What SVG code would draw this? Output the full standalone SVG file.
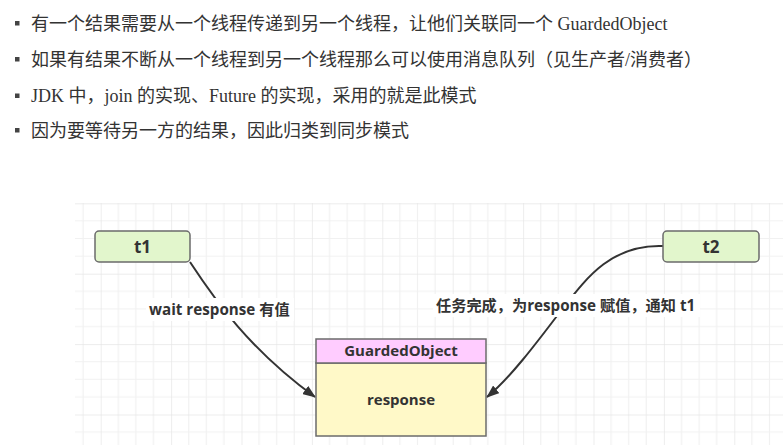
<svg xmlns="http://www.w3.org/2000/svg" width="783" height="445" viewBox="0 0 783 445">
<defs>
<style>
.bul{font-family:"Liberation Serif","Noto Sans CJK SC",serif;font-size:18px;fill:#333}
.sq{fill:#444}
.node{stroke:#6b6b6b;stroke-width:1.5}
.t{font-family:"Open Sans","Noto Sans CJK SC",sans-serif;font-weight:bold;fill:#333;text-anchor:middle}
.edge{fill:none;stroke:#333;stroke-width:2}
.lbl{font-family:"Open Sans","Noto Sans CJK SC",sans-serif;font-weight:bold;font-size:15.2px;fill:#333}
</style>
<pattern id="grid" patternUnits="userSpaceOnUse" x="100.7" y="203.3" width="70.4" height="70.4">
<path d="M17.6 0V70.4M35.2 0V70.4M52.8 0V70.4M0 17.6H70.4M0 35.2H70.4M0 52.8H70.4" stroke="#f1f1f1" stroke-width="1.2" fill="none"/>
<path d="M0 0V70.4M0 0H70.4" stroke="#e6e6e6" stroke-width="1.4" fill="none"/>
</pattern>
<marker id="arr" viewBox="0 0 13 10" refX="12" refY="5" markerWidth="13" markerHeight="10" markerUnits="userSpaceOnUse" orient="auto">
<path d="M0 0L13 5L0 10Z" fill="#333"/>
</marker>
</defs>
<rect width="783" height="445" fill="#fff"/>
<g id="bullets">
<rect class="sq" x="15" y="21" width="4.5" height="4.5"/>
<text class="bul" x="31" y="30">有一个结果需要从一个线程传递到另一个线程，让他们关联同一个 GuardedObject</text>
<rect class="sq" x="15" y="57" width="4.5" height="4.5"/>
<text class="bul" x="31" y="66">如果有结果不断从一个线程到另一个线程那么可以使用消息队列（见生产者/消费者）</text>
<rect class="sq" x="15" y="93.5" width="4.5" height="4.5"/>
<text class="bul" x="31" y="102">JDK 中，join 的实现、Future 的实现，采用的就是此模式</text>
<rect class="sq" x="15" y="128" width="4.5" height="4.5"/>
<text class="bul" x="31" y="137">因为要等待另一方的结果，因此归类到同步模式</text>
</g>
<rect x="75" y="203" width="708" height="242" fill="url(#grid)"/>
<g id="connectors">
<path class="edge" d="M190 262C215 300 250 350 315 397" marker-end="url(#arr)"/>
<path class="edge" d="M663 246C610 244 585 280 560 312C535 345 510 378 487 397" marker-end="url(#arr)"/>
<rect x="146" y="298" width="148" height="23" fill="#fff"/>
<text class="lbl" x="149" y="314.5">wait response 有值</text>
<rect x="433" y="294" width="267" height="23" fill="#fff"/>
<text class="lbl" x="436" y="311">任务完成，为response 赋值，通知 t1</text>
</g>
<g id="t1">
<rect class="node" x="95" y="231" width="95" height="31" rx="4" fill="#e2f6cc"/>
<text class="t" x="142.5" y="253" font-size="17">t1</text>
</g>
<g id="t2">
<rect class="node" x="663" y="231" width="96" height="31" rx="4" fill="#e2f6cc"/>
<text class="t" x="711" y="253" font-size="17">t2</text>
</g>
<g id="GuardedObject">
<rect class="node" x="316" y="363" width="170" height="73" fill="#fff9c8"/>
<rect class="node" x="316" y="339" width="170" height="24" fill="#ffccff"/>
<text class="t" x="401" y="356" font-size="15">GuardedObject</text>
<text class="t" x="401" y="405" font-size="15">response</text>
</g>
</svg>
